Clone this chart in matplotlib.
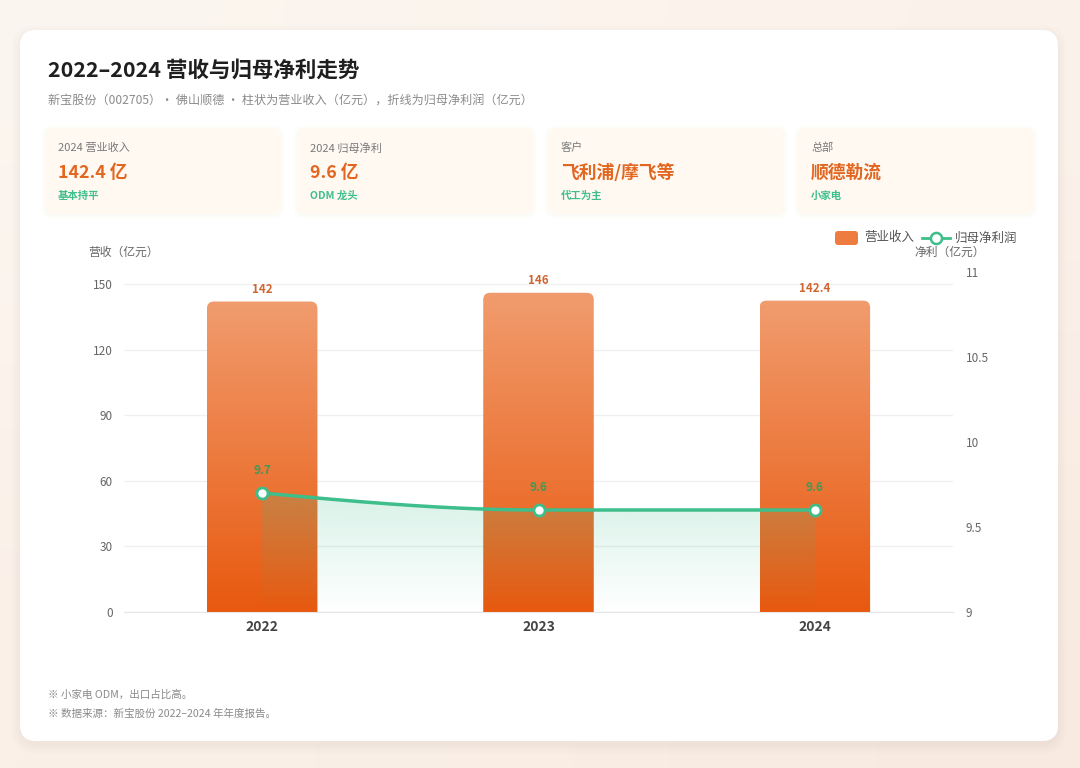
import numpy as np
import matplotlib
matplotlib.use('Agg')
import matplotlib.pyplot as plt
from matplotlib.patches import FancyBboxPatch, Polygon
from matplotlib.colors import LinearSegmentedColormap
from matplotlib.lines import Line2D

plt.rcParams['font.family'] = ['Noto Sans CJK SC', 'DejaVu Sans']

# ---------------- data ----------------
years = ['2022', '2023', '2024']
revenue = [142, 146, 142.4]
net_profit = [9.7, 9.6, 9.6]
rev_labels = ['142', '146', '142.4']
np_labels = ['9.7', '9.6', '9.6']
left_ticks = [0, 30, 60, 90, 120, 150]
right_ticks = [9, 9.5, 10, 10.5, 11]
right_tick_labels = ['9', '9.5', '10', '10.5', '11']

kpi_labels = ['2024 营业收入', '2024 归母净利', '客户', '总部']
kpi_values = ['142.4 亿', '9.6 亿', '飞利浦/摩飞等', '顺德勒流']
kpi_notes = ['基本持平', 'ODM 龙头', '代工为主', '小家电']

title = '2022–2024 营收与归母净利走势'
subtitle = '新宝股份（002705）· 佛山顺德 · 柱状为营业收入（亿元），折线为归母净利润（亿元）'
left_axis_title = '营收（亿元）'
right_axis_title = '净利（亿元）'
legend_bar = '营业收入'
legend_line = '归母净利润'
footnotes = ['※ 小家电 ODM，出口占比高。', '※ 数据来源：新宝股份 2022–2024 年年度报告。']

# ---------------- styling ----------------
ORANGE_TOP = '#F19C6E'
ORANGE_BOT = '#E8590F'
GREEN = '#3DBE8B'
GREEN_TXT = '#3E9A56'
BAR_TXT = '#CF6530'

W, H = 1080, 768
fig = plt.figure(figsize=(W / 100, H / 100), dpi=100)

# background axes in pixel coordinates
bg = fig.add_axes([0, 0, 1, 1], zorder=0)
bg.set_xlim(0, W)
bg.set_ylim(H, 0)
bg.axis('off')

c = lambda h: np.array(matplotlib.colors.to_rgb(h))
grid_bg = np.array([[c('#FCF6F0'), c('#FBF2EB')],
                    [c('#FAF0E8'), c('#F8EAE0')]])
bg.imshow(grid_bg, extent=(0, W, H, 0), interpolation='bicubic', aspect='auto', zorder=0)
bg.set_xlim(0, W)
bg.set_ylim(H, 0)

# card shadow
for i in range(10):
    bg.add_patch(FancyBboxPatch((20 - i, 30 - i + 4), 1038 + 2 * i, 711 + 2 * i,
                                boxstyle=f'round,pad=0,rounding_size={16 + i}',
                                fc=(0.6, 0.4, 0.25, 0.004), ec='none', zorder=1))
bg.add_patch(FancyBboxPatch((20, 30), 1038, 711, boxstyle='round,pad=0,rounding_size=16',
                            fc='white', ec='none', zorder=2))

bg.text(48, 70, title, fontsize=15.5, weight='bold', color='#1F1F1F', va='center', zorder=3)
bg.text(48, 100, subtitle, fontsize=8.7, color='#8A8A8A', va='center', zorder=3)

# KPI cards
card_x = [45, 297, 548, 798]
card_w = 236
for i, cx in enumerate(card_x):
    for k in range(5):
        bg.add_patch(FancyBboxPatch((cx - k, 128 - k + 1), card_w + 2 * k, 86 + 2 * k,
                                    boxstyle=f'round,pad=0,rounding_size={8 + k}',
                                    fc=(0.97, 0.85, 0.7, 0.02), ec='none', zorder=3))
    bg.add_patch(FancyBboxPatch((cx, 128), card_w, 86, boxstyle='round,pad=0,rounding_size=8',
                                fc='#FFF9F2', ec='none', zorder=3))
    bg.text(cx + 13, 148, kpi_labels[i], fontsize=8, color='#7A7A7A', va='center', zorder=4)
    bg.text(cx + 13, 173, kpi_values[i], fontsize=12.8, weight='bold', color='#E2661F',
            va='center', zorder=4)
    bg.text(cx + 13, 196, kpi_notes[i], fontsize=7.5, weight='bold', color=GREEN,
            va='center', zorder=4)

# axis titles
bg.text(88, 252, left_axis_title, fontsize=8.5, color='#666666', va='center', zorder=4)
bg.text(950, 252, right_axis_title, fontsize=8.5, color='#666666', va='center', ha='center', zorder=4)

# legend
bg.add_patch(FancyBboxPatch((835, 231), 23, 14, boxstyle='round,pad=0,rounding_size=3',
                            fc='#EE7C40', ec='none', zorder=4))
bg.text(864, 238, legend_bar, fontsize=9, color='#555555', va='center', zorder=4)
bg.add_line(Line2D([922, 950], [238, 238], color=GREEN, lw=2, zorder=4))
bg.add_line(Line2D([936], [238], marker='o', ms=8, mfc='white', mec=GREEN, mew=1.8, zorder=5))
bg.text(955, 238, legend_line, fontsize=9, color='#555555', va='center', zorder=4)

# footnotes
for j, ft in enumerate(footnotes):
    bg.text(48, 695 + 19 * j, ft, fontsize=7.6, color='#8A8A8A', va='center', zorder=4)

# ---------------- main chart ----------------
L, R, T, B = 124, 953, 272, 612
ax = fig.add_axes([L / W, 1 - B / H, (R - L) / W, (B - T) / H], zorder=2)
ax.patch.set_visible(False)
x = np.arange(len(years))
XLIM = (-0.5, len(years) - 0.5)
YLIM = (0, 155.5)
ax.set_xlim(*XLIM)
ax.set_ylim(*YLIM)

bars = ax.bar(x, revenue, width=0.4, color='none', zorder=2)

p0 = ax.transData.transform((0, 0))
p1 = ax.transData.transform((1, 1))
sx, sy = p1[0] - p0[0], p1[1] - p0[1]
rpx = 7
rx, ry = rpx / sx, rpx / sy
bar_cmap = LinearSegmentedColormap.from_list('bar', [ORANGE_BOT, ORANGE_TOP])
grad = np.linspace(0, 1, 256).reshape(-1, 1)
for b in bars:
    x0, w, h = b.get_x(), b.get_width(), b.get_height()
    patch = FancyBboxPatch((x0, -3 * ry), w, h + 3 * ry,
                           boxstyle=f'round,pad=0,rounding_size={rx}',
                           mutation_aspect=ry / rx, fc='none', ec='none',
                           transform=ax.transData)
    ax.add_patch(patch)
    im = ax.imshow(grad, extent=(x0, x0 + w, 0, h), origin='lower', aspect='auto',
                   cmap=bar_cmap, zorder=2, interpolation='bilinear')
    im.set_clip_path(patch)

for xi, v, lab in zip(x, revenue, rev_labels):
    ax.annotate(lab, (xi, v), xytext=(0, 9), textcoords='offset points', ha='center',
                va='center', fontsize=8.3, weight='bold', color=BAR_TXT, zorder=5)

ax.set_yticks(left_ticks)
ax.grid(axis='y', color='#F0F0F0', lw=1)
ax.set_axisbelow(True)
for s in ['left', 'right', 'top']:
    ax.spines[s].set_visible(False)
ax.spines['bottom'].set_color('#E6E6E6')
ax.tick_params(axis='y', length=0, pad=8, labelsize=8.5, labelcolor='#666666')
ax.set_xticks(x, years)
ax.tick_params(axis='x', length=0, pad=6, labelsize=10, labelcolor='#444444')
for t in ax.get_xticklabels():
    t.set_fontweight('bold')

# ---------------- line on secondary axis ----------------
ax2 = ax.twinx()
ax2.set_zorder(3)
ax2.patch.set_visible(False)
ax2.set_ylim(9, 11)


def pchip(xk, yk, n=80):
    xk = np.asarray(xk, float)
    yk = np.asarray(yk, float)
    h = np.diff(xk)
    d = np.diff(yk) / h
    m = np.zeros_like(yk)
    for k in range(1, len(xk) - 1):
        if d[k - 1] * d[k] <= 0:
            m[k] = 0
        else:
            w1 = 2 * h[k] + h[k - 1]
            w2 = h[k] + 2 * h[k - 1]
            m[k] = (w1 + w2) / (w1 / d[k - 1] + w2 / d[k])

    def endslope(h0, h1, d0, d1):
        mm = ((2 * h0 + h1) * d0 - h0 * d1) / (h0 + h1)
        if np.sign(mm) != np.sign(d0):
            mm = 0
        elif np.sign(d0) != np.sign(d1) and abs(mm) > abs(3 * d0):
            mm = 3 * d0
        return mm

    m[0] = endslope(h[0], h[1], d[0], d[1])
    m[-1] = endslope(h[-1], h[-2], d[-1], d[-2])
    xs, ys = [], []
    for k in range(len(xk) - 1):
        t = np.linspace(0, 1, n)
        h00 = 2 * t**3 - 3 * t**2 + 1
        h10 = t**3 - 2 * t**2 + t
        h01 = -2 * t**3 + 3 * t**2
        h11 = t**3 - t**2
        yy = h00 * yk[k] + h10 * h[k] * m[k] + h01 * yk[k + 1] + h11 * h[k] * m[k + 1]
        xs.append(xk[k] + t * h[k])
        ys.append(yy)
    return np.concatenate(xs), np.concatenate(ys)


xs, ys = pchip(x, net_profit)
base = 9
poly = Polygon(list(zip(xs, ys)) + [(xs[-1], base), (xs[0], base)], closed=True,
               fc='none', ec='none', transform=ax2.transData)
ax2.add_patch(poly)
alpha = np.linspace(0.0, 0.2, 256)
area = np.zeros((256, 1, 4))
area[..., 0], area[..., 1], area[..., 2] = c(GREEN)
area[:, 0, 3] = alpha
im2 = ax2.imshow(area, extent=(xs[0], xs[-1], base, max(net_profit)), origin='lower',
                 aspect='auto', zorder=3, interpolation='bilinear')
im2.set_clip_path(poly)

ax2.plot(xs, ys, color=GREEN, lw=2.5, zorder=4, solid_capstyle='round')
ax2.plot(x, net_profit, 'o', mfc='white', mec=GREEN, mew=2, ms=8, zorder=5)
for xi, v, lab in zip(x, net_profit, np_labels):
    ax2.annotate(lab, (xi, v), xytext=(0, 16), textcoords='offset points', ha='center',
                 va='center', fontsize=8.5, weight='bold', color=GREEN_TXT, zorder=6)

ax2.set_yticks(right_ticks, right_tick_labels)
ax2.tick_params(axis='y', length=0, pad=9, labelsize=8.5, labelcolor='#666666')
for s in ax2.spines.values():
    s.set_visible(False)

ax.set_xlim(*XLIM)
ax.set_ylim(*YLIM)
ax2.set_ylim(9, 11)

fig.savefig('out.png', dpi=100)
